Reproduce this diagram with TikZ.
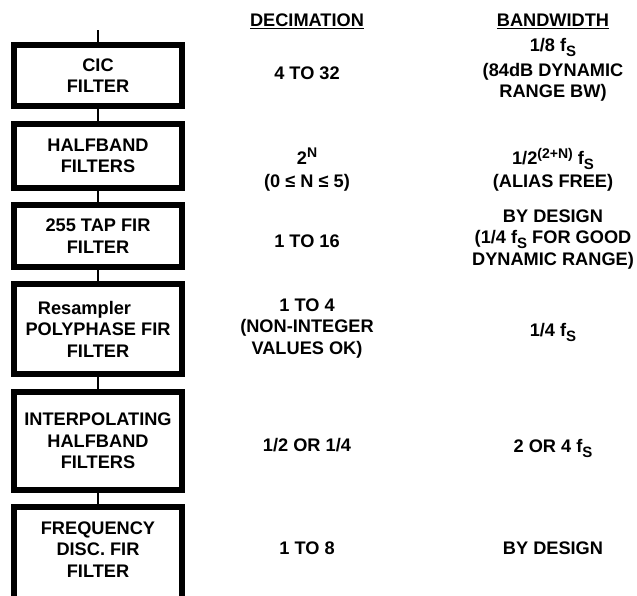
\documentclass[tikz,border=0pt]{standalone}
\usepackage{fontspec}
\setmainfont{Liberation Sans}
\newcommand{\fS}{f\raisebox{-5pt}{\fontsize{15}{15}\selectfont S}}
\newcommand{\supx}[1]{\raisebox{6.5pt}{\fontsize{14}{14}\selectfont #1}}
\begin{document}
\begin{tikzpicture}[x=1pt,y=-1pt,
  font=\fontsize{18.2}{21.5}\selectfont\bfseries,
  box/.style={draw, line width=6pt, minimum width=168pt, align=center, inner sep=0pt},
  lbl/.style={align=center, inner sep=0pt},
  link/.style={line width=2.5pt}]
\useasboundingbox (0,0) rectangle (637,595);
\clip (0,0) rectangle (637,595);

% filter chain
\coordinate (in) at (98,30);
\node[box, minimum height=61.6pt] (cic) at (98,75.5) {CIC\\FILTER};
\node[box, minimum height=64.3pt] (hb) at (98,155.9) {HALFBAND\\FILTERS};
\node[box, minimum height=62pt] (fir) at (98,236) {255 TAP FIR\\FILTER};
\node[box, minimum height=90pt] (rs) at (98,329) {Resampler\hspace*{27pt}\\POLYPHASE FIR\\FILTER};
\node[box, minimum height=97.7pt] (int) at (98,440.9) {INTERPOLATING\\HALFBAND\\FILTERS};
\node[box, minimum height=120pt, anchor=north] (fd) at (98,504) {};
\node[lbl] (fdt) at (98,549.5) {FREQUENCY\\DISC. FIR\\FILTER};

\draw[link] (in) -- (cic.north);
\draw[link] (cic.south) -- (hb.north);
\draw[link] (hb.south) -- (fir.north);
\draw[link] (fir.south) -- (rs.north);
\draw[link] (rs.south) -- (int.north);
\draw[link] (int.south) -- (fd.north);

% headers
\node[lbl, anchor=base] (hdec) at (307,26.7) {\underline{DECIMATION}};
\node[lbl, anchor=base] (hbw) at (553,26.7) {\underline{BANDWIDTH}};

% decimation column
\node[lbl, anchor=base] (d1) at (307,79.5) {4 TO 32};
\node[lbl, anchor=north] (d2) at (307,148) {2\supx{N}\\[1.5pt](0 ≤ N ≤ 5)};
\node[lbl, anchor=base] (d3) at (307,247.5) {1 TO 16};
\node[lbl, anchor=north] (d4) at (307,298.5) {1 TO 4\\(NON-INTEGER\\VALUES OK)};
\node[lbl, anchor=base] (d5) at (307,451.5) {1/2 OR 1/4};
\node[lbl, anchor=base] (d6) at (307,554.5) {1 TO 8};

% bandwidth column
\node[lbl, anchor=north] (b1) at (553,38.5) {1/8 \fS\\[3pt](84dB DYNAMIC\\RANGE BW)};
\node[lbl, anchor=north] (b2) at (553,148) {1/2\supx{(2+N)} \fS\\[1.5pt](ALIAS FREE)};
\node[lbl, anchor=north] (b3) at (553,209.5) {BY DESIGN\\(1/4 \fS{} FOR GOOD\\DYNAMIC RANGE)};
\node[lbl, anchor=base] (b4) at (553,336.5) {1/4 \fS};
\node[lbl, anchor=base] (b5) at (553,452.5) {2 OR 4 \fS};
\node[lbl, anchor=base] (b6) at (553,554.5) {BY DESIGN};
\end{tikzpicture}
\end{document}
